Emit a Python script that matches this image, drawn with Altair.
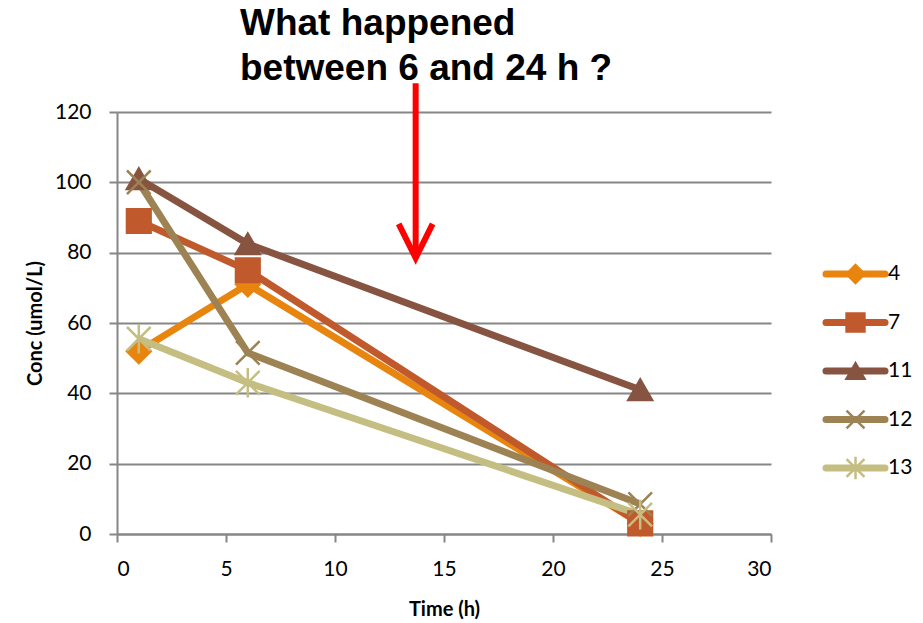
import altair as alt
import pandas as pd

# ---- data ----
times = [1, 6, 24]
series_names = ["4", "7", "11", "12", "13"]
s4 = [52, 71, 3]
s7 = [89, 75, 3]
s11 = [101, 82.5, 41]
s12 = [100, 51.5, 8.5]
s13 = [55.5, 43, 5.5]
x_ticks = [0, 5, 10, 15, 20, 25, 30]
y_ticks = [0, 20, 40, 60, 80, 100, 120]
title_lines = ["What happened", "between 6 and 24 h ?"]
arrow_x = [13.7]
arrow_top = [128.2]
arrow_tip = [78.5]

colors = ["#E8850E", "#C05A2C", "#865440", "#9D8354", "#C5BE82"]
shapes = ["diamond", "square", "triangle-up",
          "M-1,-1L1,1M-1,1L1,-1",
          "M-1,-1L1,1M-1,1L1,-1M0,-1.25L0,1.25"]

rows = []
for name, vals in zip(series_names, [s4, s7, s11, s12, s13]):
    for t, v in zip(times, vals):
        rows.append({"series": name, "time": t, "conc": v})
df = pd.DataFrame(rows)

cscale = alt.Scale(domain=series_names, range=colors)
sscale = alt.Scale(domain=series_names, range=shapes)

x_enc = alt.X("time:Q", scale=alt.Scale(domain=[0, 30], nice=False),
              axis=alt.Axis(values=x_ticks, title="Time (h)", grid=False,
                            labelPadding=16, titlePadding=20))
y_enc = alt.Y("conc:Q", scale=alt.Scale(domain=[0, 120], nice=False),
              axis=alt.Axis(values=y_ticks, title="Conc (umol/L)", grid=True,
                            labelPadding=18, titlePadding=9))

base = alt.Chart(df).encode(x=x_enc, y=y_enc)
lines = base.mark_line(strokeWidth=7).encode(
    color=alt.Color("series:N", scale=cscale, legend=None))
points = base.mark_point(filled=True, size=560, strokeWidth=2.5, opacity=1).encode(
    color=alt.Color("series:N", scale=cscale, legend=None),
    stroke=alt.Stroke("series:N", scale=cscale, legend=None),
    shape=alt.Shape("series:N", scale=sscale, legend=None))

adf = pd.DataFrame({"x": arrow_x, "top": arrow_top, "tip": arrow_tip})
arrow_line = alt.Chart(adf).mark_rule(color="#FF0000", strokeWidth=6).encode(
    x="x:Q", y="top:Q", y2="tip:Q")
arrow_head = alt.Chart(adf).mark_point(
    shape="M-1,-2L0,0L1,-2", size=1156, filled=False, color="#FF0000",
    strokeWidth=6, opacity=1, strokeCap="butt").encode(x="x:Q", y="tip:Q")

main = (lines + points + arrow_line + arrow_head).properties(
    width=654, height=422,
    title=alt.TitleParams(text=title_lines, anchor="start", frame="group", dx=123,
                          fontSize=37, font="Liberation Sans", fontWeight="bold",
                          color="black", lineHeight=45, offset=-8))

# ---- legend panel ----
leg = pd.DataFrame({"series": series_names, "idx": list(range(len(series_names)))})
leg["x0"] = 0.0
leg["x1"] = 1.0
leg["xm"] = 0.5
lbase = alt.Chart(leg).encode(
    y=alt.Y("idx:Q", scale=alt.Scale(domain=[-3.34, 5.36], reverse=True, nice=False, zero=False),
            axis=None))
lrule = lbase.mark_rule(strokeWidth=7, strokeCap="round").encode(
    x=alt.X("x0:Q", scale=alt.Scale(domain=[0, 1], nice=False), axis=None), x2="x1:Q",
    color=alt.Color("series:N", scale=cscale, legend=None))
lpts = lbase.mark_point(filled=True, size=320, strokeWidth=2.5, opacity=1).encode(
    x="xm:Q",
    color=alt.Color("series:N", scale=cscale, legend=None),
    stroke=alt.Stroke("series:N", scale=cscale, legend=None),
    shape=alt.Shape("series:N", scale=sscale, legend=None))
ltxt = lbase.mark_text(align="left", baseline="middle", dx=3, fontSize=21,
                       font="Lato", color="black").encode(x="x1:Q", text="series:N")
legend = (lrule + lpts + ltxt).properties(width=59, height=422)

chart = alt.hconcat(main, legend, spacing=50).properties(
    padding={"left": 25, "top": 5, "right": 5, "bottom": 5}
).configure_view(stroke=None).configure_axis(
    domainColor="#868686", domainWidth=2, tickColor="#868686", tickWidth=2,
    tickSize=8, gridColor="#868686", gridWidth=2,
    labelFont="Lato", labelFontSize=21, labelColor="black",
    titleFont="Lato", titleFontWeight="bold", titleFontSize=20, titleColor="black")

chart.save("out.html", embed_options={"renderer": "svg", "actions": False})
